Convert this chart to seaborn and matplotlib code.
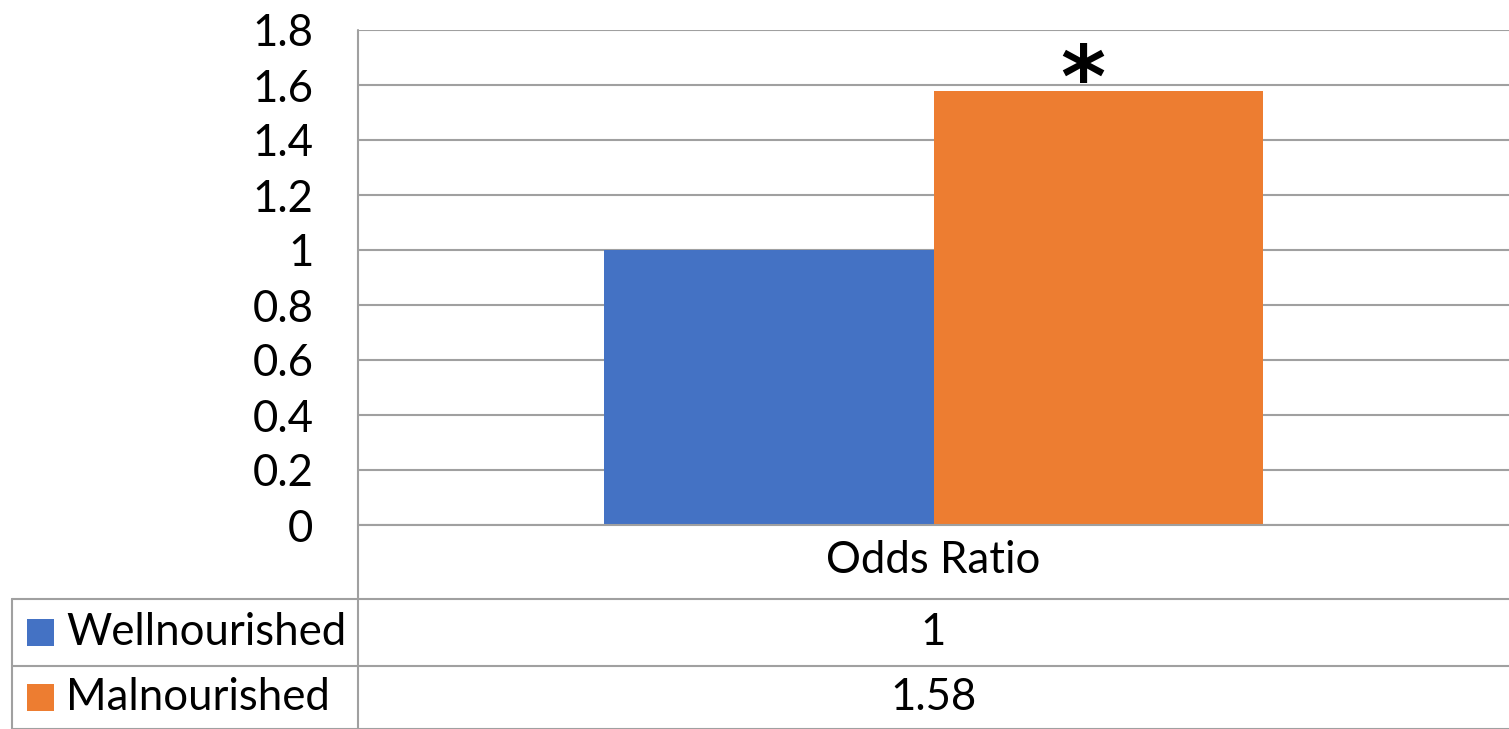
import matplotlib
matplotlib.use("Agg")
import matplotlib.pyplot as plt
from matplotlib.lines import Line2D
from matplotlib.patches import Rectangle
import seaborn as sns
import pandas as pd

# Chart data
categories = ["Odds Ratio"]
groups = ["Wellnourished", "Malnourished"]
odds_ratio = [1, 1.58]
value_labels = ["1", "1.58"]
colors = ["#4472C4", "#ED7D31"]
y_ticks = [0, 0.2, 0.4, 0.6, 0.8, 1, 1.2, 1.4, 1.6, 1.8]
y_tick_labels = ["0", "0.2", "0.4", "0.6", "0.8", "1", "1.2", "1.4", "1.6", "1.8"]
significance_mark = "*"

df = pd.DataFrame({
    "category": categories * len(groups),
    "group": groups,
    "value": odds_ratio,
})

sns.set_theme(style="white")
plt.rcParams["font.family"] = ["Lato", "DejaVu Sans"]
plt.rcParams["text.color"] = "black"
plt.rcParams["xtick.color"] = "black"
plt.rcParams["ytick.color"] = "black"
FS = 31.5

W, H = 1509, 729
fig = plt.figure(figsize=(W / 100, H / 100), dpi=100)

def fx(px):
    return px / W

def fy(py):
    return 1 - py / H

ax_left, ax_right, ax_top, ax_bottom = 358, 1509, 30, 525
ax = fig.add_axes([fx(ax_left), fy(ax_bottom), fx(ax_right - ax_left), fy(ax_top) - fy(ax_bottom)])

sns.barplot(data=df, x="category", y="value", hue="group", palette=colors,
            width=0.573, gap=0, saturation=1, legend=False, ax=ax, zorder=3,
            linewidth=0)

ax.set_ylim(0, 1.8)
ax.set_xlim(-0.5, 0.5)
ax.set_yticks(y_ticks)
ax.set_yticklabels(y_tick_labels, fontsize=FS)
ax.tick_params(axis="y", length=0, pad=32)
ax.tick_params(axis="x", length=0, pad=11, labelsize=FS)
ax.set_xlabel("")
ax.set_ylabel("")

grid_color = "#A0A0A0"
ax.yaxis.grid(True, color=grid_color, linewidth=1.5, zorder=0)
ax.set_axisbelow(True)
for side in ["top", "right", "bottom", "left"]:
    ax.spines[side].set_visible(False)

# Significance marker above the malnourished bar
mal_bar = ax.patches[1]
ax.annotate(significance_mark,
            xy=(mal_bar.get_x() + mal_bar.get_width() / 2, odds_ratio[1]),
            xytext=(-11, -25), textcoords="offset points",
            ha="center", va="bottom", fontsize=62, fontweight="bold",
            family=["DejaVu Sans"], color="black")

# Data table below the chart
line_kw = dict(color=grid_color, linewidth=1.5, transform=fig.transFigure)
table_left = 12
row_lines = [525, 599, 666, 729]
fig.add_artist(Line2D([fx(ax_left), fx(W)], [fy(525), fy(525)], **line_kw))
for y in row_lines[1:]:
    fig.add_artist(Line2D([fx(table_left), fx(W)], [fy(y), fy(y)], **line_kw))
fig.add_artist(Line2D([fx(ax_left), fx(ax_left)], [fy(ax_top), fy(H)], **line_kw))
fig.add_artist(Line2D([fx(table_left), fx(table_left)], [fy(599), fy(H)], **line_kw))

col_center = (ax_left + W) / 2
for i, (grp, lbl, col) in enumerate(zip(groups, value_labels, colors)):
    top, bot = row_lines[i + 1], row_lines[i + 2]
    yc = (top + bot) / 2
    fig.add_artist(Rectangle((fx(27), fy(yc + 13.5)), fx(27), fy(0) - fy(27),
                             facecolor=col, edgecolor="none", transform=fig.transFigure))
    fig.text(fx(66), fy(yc), grp, fontsize=FS, ha="left", va="center")
    fig.text(fx(col_center), fy(yc), lbl, fontsize=FS, ha="center", va="center")

fig.savefig("out.png", dpi=100, facecolor="white")
